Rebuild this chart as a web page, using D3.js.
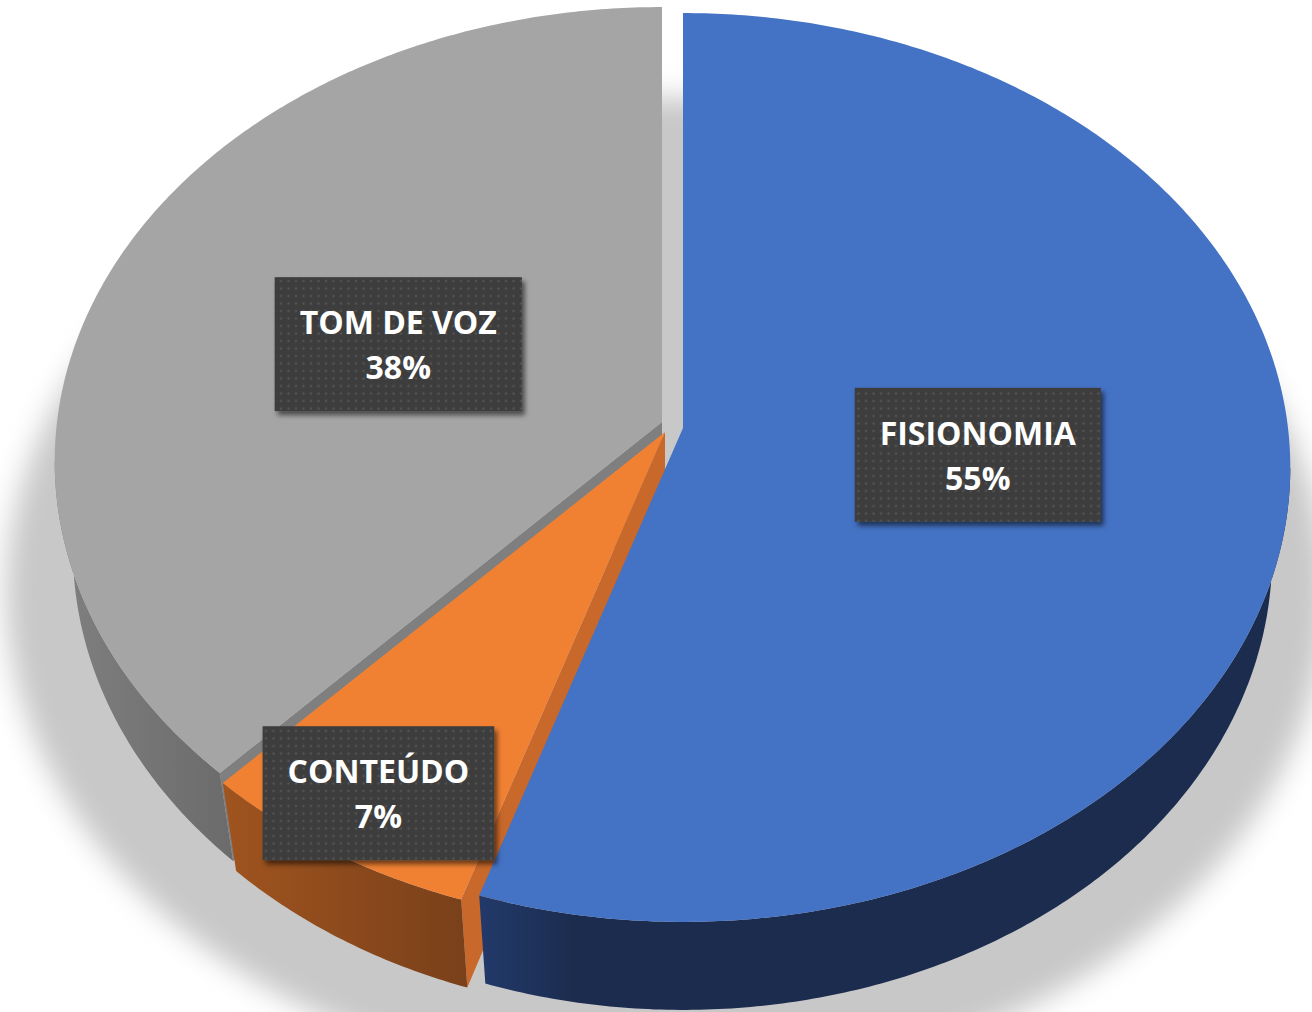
<!DOCTYPE html>
<html>
<head>
<meta charset="utf-8">
<script src="https://cdn.jsdelivr.net/npm/d3@7"></script>
<style>
  body { margin: 0; background: #fff; }
  svg { display: block; }
</style>
</head>
<body>
<div id="chart"></div>
<script>
// dados do gráfico
var categories = ["FISIONOMIA", "CONTEÚDO", "TOM DE VOZ"];
var values = [55, 7, 38];
var percentLabels = ["55%", "7%", "38%"];

// estilo por fatia
var topColors  = ["#4472c4", "#f08133", "#a5a5a5"];
var wallColors = ["#2f5597", "#c8682a", "#7f7f7f"];
var sideStops  = [["#22396a", "#1b2c4e"], ["#a0541f", "#79401a"], ["#808080", "#6b6b6b"]];
var explode = [[21, 6], [3, 10], [0, 0]];   // deslocamento em px de cada fatia
var labelPos = [[0.49, -8], [0.87, 0], [0.476, 0]]; // raio relativo, ajuste vertical
var drawOrder = [2, 1, 0];  // de trás para frente

var widthx = 1312;  // largura
var heighty = 1012; // altura
var cx = 662, cy = 422;          // centro da pizza
var rx = 605, ryA = 451, k = 0.0869; // elipse com perspectiva
var depth = 88, shrink = 0.97;

var svg = d3.select("#chart")
    .append("svg")
    .attr("width", widthx)
    .attr("height", heighty);

var defs = svg.append("defs");

// sombra do chão
defs.append("filter").attr("id", "blurShadow")
    .attr("x", "-10%").attr("y", "-10%").attr("width", "120%").attr("height", "130%")
    .append("feGaussianBlur").attr("stdDeviation", 14);

// sombra das caixas de rótulo
var ds = defs.append("filter").attr("id", "boxShadow")
    .attr("x", "-10%").attr("y", "-10%").attr("width", "125%").attr("height", "130%");
ds.append("feDropShadow").attr("dx", 3).attr("dy", 4).attr("stdDeviation", 2.5)
    .attr("flood-color", "#000").attr("flood-opacity", 0.55);

// textura pontilhada
var pat = defs.append("pattern").attr("id", "dots")
    .attr("patternUnits", "userSpaceOnUse").attr("width", 7.5).attr("height", 7.5);
pat.append("rect").attr("width", 7.5).attr("height", 7.5).attr("fill", "#3e3e3e");
pat.append("rect").attr("x", 2.5).attr("y", 2.5).attr("width", 2).attr("height", 2).attr("fill", "#575757");

sideStops.forEach(function(s, i) {
    var g = defs.append("linearGradient").attr("id", "side" + i)
        .attr("x1", 0).attr("y1", 0).attr("x2", 1).attr("y2", 0);
    g.append("stop").attr("offset", 0).attr("stop-color", s[0]);
    g.append("stop").attr("offset", i == 0 ? 0.12 : 1).attr("stop-color", s[1]);
});

// projeção de um ponto do disco (ângulo a partir do topo, sentido horário)
function proj(ox, oy, a, r, bottom) {
    var u = r * Math.sin(a), v = r * Math.cos(a);
    var den = 1 + k * v;
    var x = u * rx / den, y = -v * ryA / den;
    if (bottom) { x = x * shrink; y = y + depth; }
    return [ox + x, oy + y];
}

function rimPoints(ox, oy, a0, a1, bottom) {
    var n = Math.max(2, Math.ceil(Math.abs(a1 - a0) / 0.01));
    return d3.range(n + 1).map(function(i) {
        return proj(ox, oy, a0 + (a1 - a0) * i / n, 1, bottom);
    });
}

var line = d3.line();

var pie = d3.pie().sort(null).value(function(d) { return d; });
var arcs = pie(values);

// sombra: base da pizza ampliada e deslocada para baixo
var scx = cx + 4, scy = cy + 40;
var sh = rimPoints(scx, scy, 0, 2 * Math.PI, true).map(function(p) {
    return [scx + (p[0] - scx) * 1.12, scy + depth + (p[1] - scy - depth) * 1.09];
});
svg.append("path")
    .attr("d", line(sh) + "Z")
    .attr("fill", "#c8c8c8")
    .attr("filter", "url(#blurShadow)");

var aMin = Math.acos(-k), aMax = 2 * Math.PI - Math.acos(-k);

var slices = svg.selectAll(".slice")
    .data(drawOrder.map(function(i) { return arcs[i]; }))
    .enter().append("g")
    .attr("class", "slice");

slices.each(function(d) {
    var i = d.index;
    var g = d3.select(this);
    var ox = cx + explode[i][0], oy = cy + explode[i][1];

    // paredes radiais visíveis
    [[d.startAngle, Math.sin(d.startAngle) < -0.01], [d.endAngle, Math.sin(d.endAngle) > 0.01]]
        .forEach(function(w) {
            if (!w[1]) return;
            var pts = [proj(ox, oy, 0, 0, false), proj(ox, oy, w[0], 1, false),
                       proj(ox, oy, w[0], 1, true), proj(ox, oy, 0, 0, true)];
            g.append("path").attr("d", line(pts) + "Z").attr("fill", wallColors[i]);
        });

    // lateral externa
    var s0 = Math.max(d.startAngle, aMin), s1 = Math.min(d.endAngle, aMax);
    if (s1 > s0) {
        var pts = rimPoints(ox, oy, s0, s1, false).concat(rimPoints(ox, oy, s1, s0, true));
        g.append("path").attr("d", line(pts) + "Z").attr("fill", "url(#side" + i + ")");
    }

    // face superior
    var top = [proj(ox, oy, 0, 0, false)].concat(rimPoints(ox, oy, d.startAngle, d.endAngle, false));
    g.append("path").attr("d", line(top) + "Z").attr("fill", topColors[i]);
});

// rótulos
arcs.forEach(function(d, i) {
    var ox = cx + explode[i][0], oy = cy + explode[i][1];
    var mid = (d.startAngle + d.endAngle) / 2;
    var c = proj(ox, oy, mid, labelPos[i][0], false);
    c[1] += labelPos[i][1];
    var lab = svg.append("g").attr("class", "label");
    var box = lab.append("rect");
    var t1 = lab.append("text")
        .attr("x", c[0]).attr("y", c[1] - 10)
        .attr("text-anchor", "middle")
        .style("font-family", "'Open Sans', sans-serif")
        .style("font-weight", 700)
        .style("font-size", "32px")
        .attr("fill", "#fff")
        .text(categories[i]);
    lab.append("text")
        .attr("x", c[0]).attr("y", c[1] + 35)
        .attr("text-anchor", "middle")
        .style("font-family", "'Open Sans', sans-serif")
        .style("font-weight", 700)
        .style("font-size", "32px")
        .attr("fill", "#fff")
        .text(percentLabels[i]);
    var w = t1.node().getComputedTextLength() + 50;
    box.attr("x", c[0] - w / 2).attr("y", c[1] - 67)
        .attr("width", w).attr("height", 134)
        .attr("fill", "url(#dots)")
        .attr("filter", "url(#boxShadow)");
});
</script>
</body>
</html>
